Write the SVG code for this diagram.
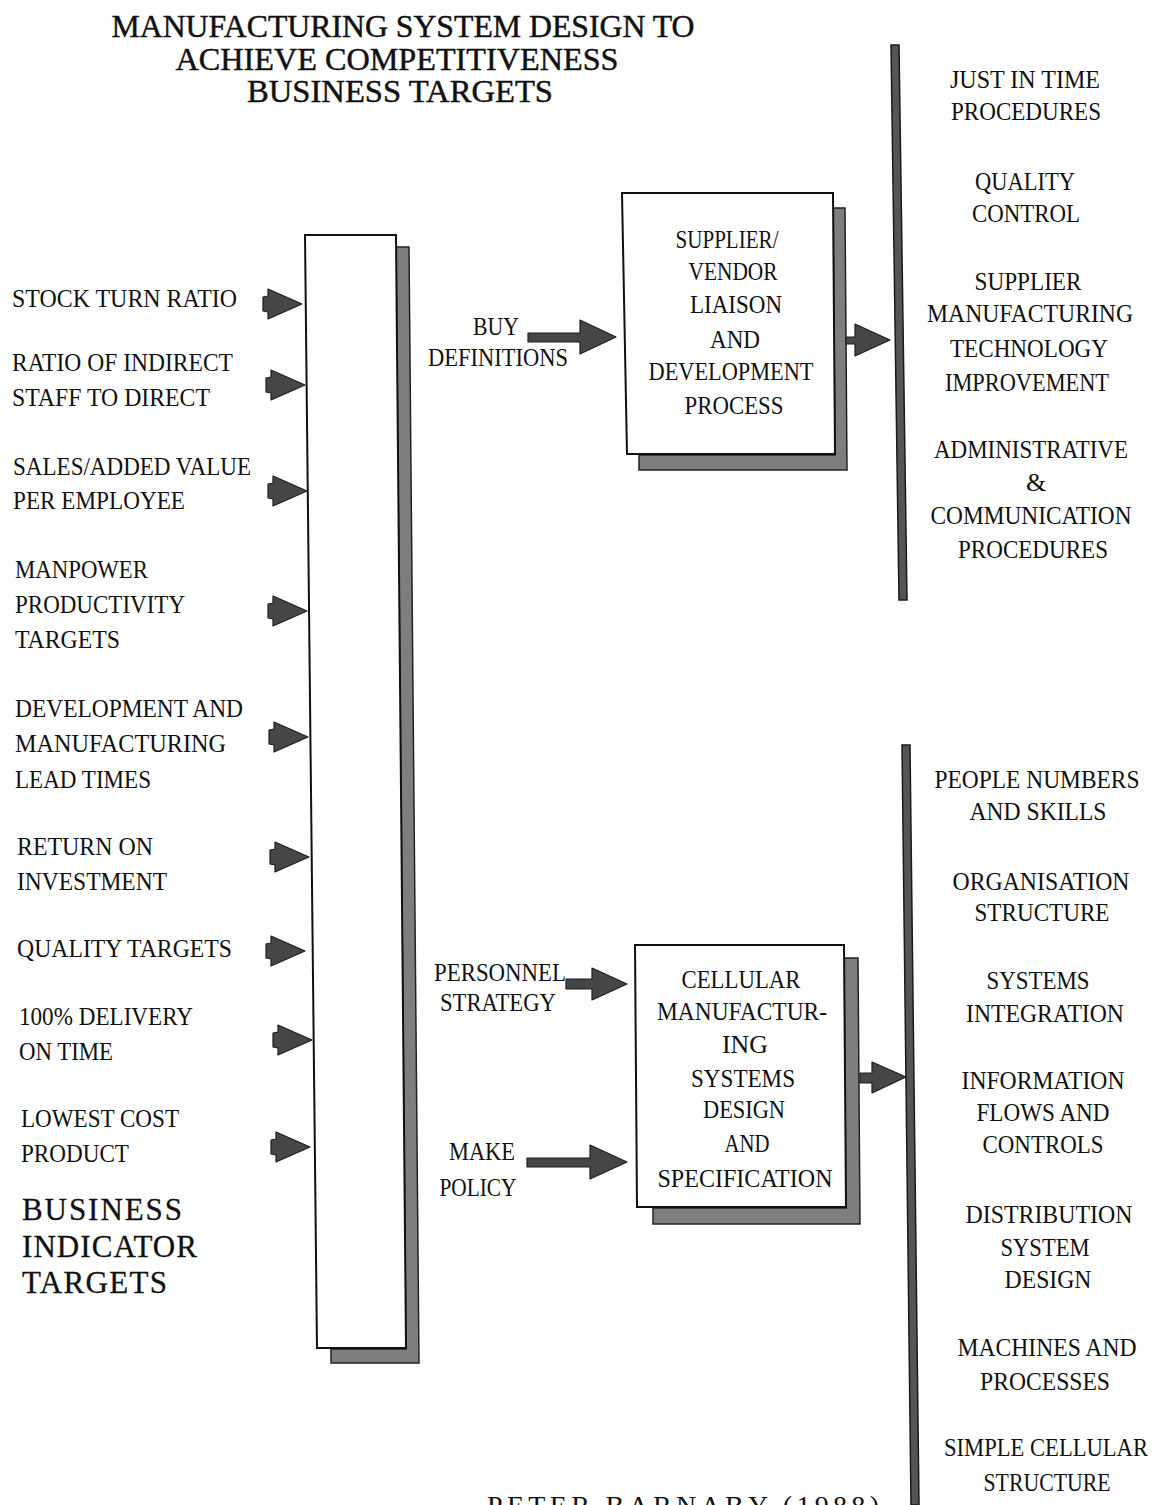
<svg xmlns="http://www.w3.org/2000/svg" xmlns:xlink="http://www.w3.org/1999/xlink" width="1159" height="1505" viewBox="0 0 1159 1505" font-family="'Liberation Serif', 'Times New Roman', serif">
  <style>
    text { font-family: "Liberation Serif", "Times New Roman", serif; fill: #111; }
    .lbl { font-size: 26px; }
    .mid { text-anchor: middle; }
    .title { font-size: 31px; stroke: #111; stroke-width: 0.45px; }
    .big { font-size: 31px; stroke: #111; stroke-width: 0.3px; }
    .box { fill: #fff; stroke: #111; stroke-width: 2; }
    .shadow { fill: #7e7e7e; stroke: #222; stroke-width: 1.5; }
    .bar { fill: #555; stroke: #1a1a1a; stroke-width: 1.5; }
    .arrow { fill: #464646; stroke: #1e1e1e; stroke-width: 1.2; stroke-linejoin: round; }
  </style>
  <defs>
    <!-- small input arrowhead, tip at the origin -->
    <path id="tip" d="M0,0 L-34,-15 L-34,-8 L-39,-7 L-39,7 L-34,8 L-34,15 Z"/>
  </defs>

  <rect width="1159" height="1505" fill="#fff"/>

  <g id="title">
    <text class="title mid" x="403" y="37" textLength="583" lengthAdjust="spacingAndGlyphs">MANUFACTURING SYSTEM DESIGN TO</text>
    <text class="title mid" x="397" y="70" textLength="443" lengthAdjust="spacingAndGlyphs">ACHIEVE COMPETITIVENESS</text>
    <text class="title mid" x="400" y="102" textLength="306" lengthAdjust="spacingAndGlyphs">BUSINESS  TARGETS</text>
  </g>

  <!-- business indicator targets, listed down the left side -->
  <g id="indicator-targets">
    <text class="lbl" x="12" y="307" textLength="225" lengthAdjust="spacingAndGlyphs">STOCK TURN RATIO</text>
    <text class="lbl" x="12" y="371" textLength="221" lengthAdjust="spacingAndGlyphs">RATIO OF INDIRECT</text>
    <text class="lbl" x="12" y="406" textLength="198" lengthAdjust="spacingAndGlyphs">STAFF TO DIRECT</text>
    <text class="lbl" x="13" y="475" textLength="238" lengthAdjust="spacingAndGlyphs">SALES/ADDED VALUE</text>
    <text class="lbl" x="13" y="509" textLength="172" lengthAdjust="spacingAndGlyphs">PER EMPLOYEE</text>
    <text class="lbl" x="15" y="578" textLength="133" lengthAdjust="spacingAndGlyphs">MANPOWER</text>
    <text class="lbl" x="15" y="613" textLength="170" lengthAdjust="spacingAndGlyphs">PRODUCTIVITY</text>
    <text class="lbl" x="15" y="648" textLength="105" lengthAdjust="spacingAndGlyphs">TARGETS</text>
    <text class="lbl" x="15" y="717" textLength="228" lengthAdjust="spacingAndGlyphs">DEVELOPMENT AND</text>
    <text class="lbl" x="15" y="752" textLength="211" lengthAdjust="spacingAndGlyphs">MANUFACTURING</text>
    <text class="lbl" x="15" y="788" textLength="136" lengthAdjust="spacingAndGlyphs">LEAD TIMES</text>
    <text class="lbl" x="17" y="855" textLength="136" lengthAdjust="spacingAndGlyphs">RETURN ON</text>
    <text class="lbl" x="17" y="890" textLength="150" lengthAdjust="spacingAndGlyphs">INVESTMENT</text>
    <text class="lbl" x="17" y="957" textLength="215" lengthAdjust="spacingAndGlyphs">QUALITY TARGETS</text>
    <text class="lbl" x="19" y="1025" textLength="174" lengthAdjust="spacingAndGlyphs">100% DELIVERY</text>
    <text class="lbl" x="19" y="1060" textLength="94" lengthAdjust="spacingAndGlyphs">ON TIME</text>
    <text class="lbl" x="21" y="1127" textLength="158" lengthAdjust="spacingAndGlyphs">LOWEST COST</text>
    <text class="lbl" x="21" y="1162" textLength="108" lengthAdjust="spacingAndGlyphs">PRODUCT</text>
    <text class="big" x="22" y="1220" textLength="160" lengthAdjust="spacing">BUSINESS</text>
    <text class="big" x="22" y="1257" textLength="175" lengthAdjust="spacing">INDICATOR</text>
    <text class="big" x="22" y="1293" textLength="145" lengthAdjust="spacing">TARGETS</text>
  </g>

  <!-- tall collecting box -->
  <g id="target-box">
    <polygon class="shadow" points="396,247 409,247 419,1363 331,1363 331,1349 406,1349"/>
    <polygon class="box" points="305,235 396,235 406,1348 317,1348"/>
  </g>

  <g id="supplier-box">
    <polygon class="shadow" points="833,208 845,208 847,470 639,470 639,455 835,455"/>
    <polygon class="box" points="622,193 833,193 835,454 627,454"/>
    <text class="lbl mid" x="727" y="248" textLength="103" lengthAdjust="spacingAndGlyphs">SUPPLIER/</text>
    <text class="lbl mid" x="733" y="280" textLength="89" lengthAdjust="spacingAndGlyphs">VENDOR</text>
    <text class="lbl mid" x="736" y="313" textLength="92" lengthAdjust="spacingAndGlyphs">LIAISON</text>
    <text class="lbl mid" x="735" y="348" textLength="50" lengthAdjust="spacingAndGlyphs">AND</text>
    <text class="lbl mid" x="731" y="380" textLength="165" lengthAdjust="spacingAndGlyphs">DEVELOPMENT</text>
    <text class="lbl mid" x="734" y="414" textLength="99" lengthAdjust="spacingAndGlyphs">PROCESS</text>
  </g>

  <g id="buy-definitions">
    <text class="lbl mid" x="496" y="335" textLength="46" lengthAdjust="spacingAndGlyphs">BUY</text>
    <text class="lbl mid" x="498" y="366" textLength="140" lengthAdjust="spacingAndGlyphs">DEFINITIONS</text>
  </g>

  <g id="cellular-box">
    <polygon class="shadow" points="844,958 858,958 860,1224 653,1224 653,1208 846,1208"/>
    <polygon class="box" points="635,945 844,945 846,1207 637,1207"/>
    <text class="lbl mid" x="741" y="988" textLength="119" lengthAdjust="spacingAndGlyphs">CELLULAR</text>
    <text class="lbl mid" x="742" y="1020" textLength="170" lengthAdjust="spacingAndGlyphs">MANUFACTUR-</text>
    <text class="lbl mid" x="745" y="1053" textLength="46" lengthAdjust="spacingAndGlyphs">ING</text>
    <text class="lbl mid" x="743" y="1087" textLength="104" lengthAdjust="spacingAndGlyphs">SYSTEMS</text>
    <text class="lbl mid" x="744" y="1118" textLength="82" lengthAdjust="spacingAndGlyphs">DESIGN</text>
    <text class="lbl mid" x="747" y="1152" textLength="45" lengthAdjust="spacingAndGlyphs">AND</text>
    <text class="lbl mid" x="745" y="1187" textLength="175" lengthAdjust="spacingAndGlyphs">SPECIFICATION</text>
  </g>

  <g id="personnel-strategy">
    <text class="lbl mid" x="500" y="981" textLength="132" lengthAdjust="spacingAndGlyphs">PERSONNEL</text>
    <text class="lbl mid" x="498" y="1011" textLength="116" lengthAdjust="spacingAndGlyphs">STRATEGY</text>
  </g>

  <g id="make-policy">
    <text class="lbl mid" x="482" y="1160" textLength="66" lengthAdjust="spacingAndGlyphs">MAKE</text>
    <text class="lbl mid" x="478" y="1196" textLength="77" lengthAdjust="spacingAndGlyphs">POLICY</text>
  </g>

  <g id="supplier-outcomes">
    <polygon class="bar" points="891,45 899,45 907,600 899,600"/>
    <text class="lbl mid" x="1025" y="88" textLength="150" lengthAdjust="spacingAndGlyphs">JUST IN TIME</text>
    <text class="lbl mid" x="1026" y="120" textLength="150" lengthAdjust="spacingAndGlyphs">PROCEDURES</text>
    <text class="lbl mid" x="1025" y="190" textLength="100" lengthAdjust="spacingAndGlyphs">QUALITY</text>
    <text class="lbl mid" x="1026" y="222" textLength="108" lengthAdjust="spacingAndGlyphs">CONTROL</text>
    <text class="lbl mid" x="1028" y="290" textLength="107" lengthAdjust="spacingAndGlyphs">SUPPLIER</text>
    <text class="lbl mid" x="1030" y="322" textLength="206" lengthAdjust="spacingAndGlyphs">MANUFACTURING</text>
    <text class="lbl mid" x="1029" y="357" textLength="158" lengthAdjust="spacingAndGlyphs">TECHNOLOGY</text>
    <text class="lbl mid" x="1027" y="391" textLength="164" lengthAdjust="spacingAndGlyphs">IMPROVEMENT</text>
    <text class="lbl mid" x="1031" y="458" textLength="194" lengthAdjust="spacingAndGlyphs">ADMINISTRATIVE</text>
    <text class="lbl mid" x="1036" y="491">&amp;</text>
    <text class="lbl mid" x="1031" y="524" textLength="201" lengthAdjust="spacingAndGlyphs">COMMUNICATION</text>
    <text class="lbl mid" x="1033" y="558" textLength="150" lengthAdjust="spacingAndGlyphs">PROCEDURES</text>
  </g>

  <g id="cellular-outcomes">
    <polygon class="bar" points="902,745 910,745 919,1505 911,1505"/>
    <text class="lbl mid" x="1037" y="788" textLength="205" lengthAdjust="spacingAndGlyphs">PEOPLE NUMBERS</text>
    <text class="lbl mid" x="1038" y="820" textLength="137" lengthAdjust="spacingAndGlyphs">AND SKILLS</text>
    <text class="lbl mid" x="1041" y="890" textLength="177" lengthAdjust="spacingAndGlyphs">ORGANISATION</text>
    <text class="lbl mid" x="1042" y="921" textLength="135" lengthAdjust="spacingAndGlyphs">STRUCTURE</text>
    <text class="lbl mid" x="1038" y="989" textLength="103" lengthAdjust="spacingAndGlyphs">SYSTEMS</text>
    <text class="lbl mid" x="1045" y="1022" textLength="158" lengthAdjust="spacingAndGlyphs">INTEGRATION</text>
    <text class="lbl mid" x="1043" y="1089" textLength="163" lengthAdjust="spacingAndGlyphs">INFORMATION</text>
    <text class="lbl mid" x="1043" y="1121" textLength="133" lengthAdjust="spacingAndGlyphs">FLOWS AND</text>
    <text class="lbl mid" x="1043" y="1153" textLength="121" lengthAdjust="spacingAndGlyphs">CONTROLS</text>
    <text class="lbl mid" x="1049" y="1223" textLength="167" lengthAdjust="spacingAndGlyphs">DISTRIBUTION</text>
    <text class="lbl mid" x="1045" y="1256" textLength="89" lengthAdjust="spacingAndGlyphs">SYSTEM</text>
    <text class="lbl mid" x="1048" y="1288" textLength="87" lengthAdjust="spacingAndGlyphs">DESIGN</text>
    <text class="lbl mid" x="1047" y="1356" textLength="179" lengthAdjust="spacingAndGlyphs">MACHINES AND</text>
    <text class="lbl mid" x="1045" y="1390" textLength="130" lengthAdjust="spacingAndGlyphs">PROCESSES</text>
    <text class="lbl mid" x="1046" y="1456" textLength="204" lengthAdjust="spacingAndGlyphs">SIMPLE CELLULAR</text>
    <text class="lbl mid" x="1047" y="1491" textLength="127" lengthAdjust="spacingAndGlyphs">STRUCTURE</text>
  </g>

  <g id="credit">
    <text x="487" y="1515" font-size="28" textLength="392" lengthAdjust="spacing">PETER BARNABY (1988)</text>
  </g>

  <g id="connectors">
    <use href="#tip" class="arrow" x="302" y="304"/>
    <use href="#tip" class="arrow" x="305" y="385"/>
    <use href="#tip" class="arrow" x="307" y="491"/>
    <use href="#tip" class="arrow" x="307" y="611"/>
    <use href="#tip" class="arrow" x="308" y="737"/>
    <use href="#tip" class="arrow" x="309" y="857"/>
    <use href="#tip" class="arrow" x="305" y="951"/>
    <use href="#tip" class="arrow" x="312" y="1040"/>
    <use href="#tip" class="arrow" x="310" y="1147"/>
    <path class="arrow" d="M528,333 L580,333 L580,320 L616,337 L580,354 L580,342 L528,342 Z"/>
    <path class="arrow" d="M846,337 L855,337 L855,324 L890,340 L855,356 L855,344 L846,344 Z"/>
    <path class="arrow" d="M566,979 L592,979 L592,968 L627,984 L592,1000 L592,989 L566,989 Z"/>
    <path class="arrow" d="M527,1158 L590,1158 L590,1145 L627,1162 L590,1179 L590,1167 L527,1167 Z"/>
    <path class="arrow" d="M860,1073 L872,1073 L872,1062 L906,1077 L872,1093 L872,1083 L860,1083 Z"/>
  </g>
</svg>
